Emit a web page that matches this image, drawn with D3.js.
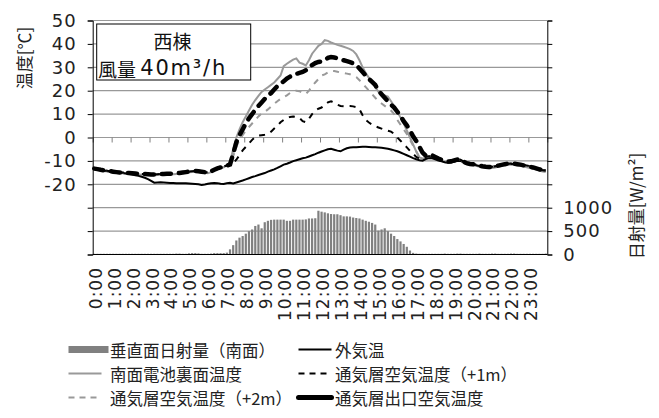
<!DOCTYPE html>
<html><head><meta charset="utf-8">
<script src="https://cdn.jsdelivr.net/npm/d3@7"></script>
<style>body{margin:0;background:#fff}svg{display:block}</style>
</head><body>
<svg id="c" width="659" height="418"></svg>
<script>
// ---- data ----
const hourLabels = ["0:00","1:00","2:00","3:00","4:00","5:00","6:00","7:00","8:00","9:00","10:00","11:00","12:00","13:00","14:00","15:00","16:00","17:00","18:00","19:00","20:00","21:00","22:00","23:00"];
const leftTickLabels = ["50","40","30","20","10","0","-10","-20"];
const rightTickLabels = ["1000","500","0"];
const seriesNames = ["垂直面日射量（南面）","外気温","南面電池裏面温度","通気層空気温度（+1m）","通気層空気温度（+2m）","通気層出口空気温度"];

const solar = [
15,15,15,15,15,15, 15,15,15,15,15,15, 15,15,15,15,15,15, 15,15,15,15,15,15,
15,15,20,20,15,15, 25,30,30,25,15,15, 15,20,30,30,30,30,
40,110,200,300,360,395, 445,500,535,610,640,560, 690,720,740,745,745,745,
745,720,720,745,745,745, 745,750,770,770,775,935, 915,900,880,865,860,860,
840,815,815,810,790,780, 770,745,720,700,675,640, 510,535,560,500,445,395,
330,280,225,165,85,35, 20,15,15,15,15,15, 15,15,15,20,15,15,
15,20,20,15,15,15, 15,15,20,15,15,15, 20,20,15,15,15,15,
20,20,15,15,15,15, 15,15,15,15,15,20];

const outdoor = [
-13.5,-13.7,-13.9,-14.1,-14.3,-14.5, -14.7,-14.9,-15.0,-15.2,-15.4,-15.6,
-15.8,-16.1,-16.4,-16.8,-17.2,-17.8, -18.5,-19.3,-19.2,-19.1,-19.2,-19.3,
-19.4,-19.4,-19.5,-19.5,-19.6,-19.6, -19.7,-19.8,-19.9,-20.0,-20.3,-20.1,
-19.8,-19.6,-19.4,-19.5,-19.8,-19.9, -19.5,-19.3,-19.6,-19.2,-18.8,-18.4,
-17.9,-17.4,-16.9,-16.5,-16.0,-15.6, -15.2,-14.6,-14.1,-13.6,-13.0,-12.3,
-11.6,-11.2,-10.7,-10.1,-9.7,-9.3, -8.9,-8.6,-8.1,-7.6,-7.1,-6.5,
-6.0,-5.5,-5.0,-4.8,-5.2,-5.6, -5.9,-5.2,-4.6,-4.3,-4.2,-4.2,
-4.1,-4.0,-4.0,-4.1,-4.2,-4.2, -4.3,-4.4,-4.6,-4.8,-5.1,-5.5,
-5.9,-6.4,-7.0,-7.6,-8.2,-8.8, -9.3,-9.7,-9.9,-9.2,-8.8,-8.9,
-9.3,-9.8,-10.2,-10.6,-10.8,-10.7, -10.4,-10.0,-10.0,-10.5,-11.0,-11.4,
-11.6,-11.9,-12.2,-12.5,-12.6,-12.6, -12.5,-12.3,-12.1,-11.8,-11.5,-11.3,
-11.2,-11.3,-11.5,-11.7,-11.8,-12.0, -12.3,-12.6,-13.0,-13.4,-13.8,-14.0];

const panelBack = [
-13.5,-13.8,-14.1,-14.3,-14.5,-14.7, -14.9,-15.1,-15.3,-15.3,-15.4,-15.5,
-15.6,-15.7,-15.8,-15.9,-15.9,-16.0, -16.1,-16.1,-16.0,-15.9,-15.9,-15.8,
-15.8,-15.7,-15.6,-15.5,-15.3,-15.1, -14.9,-14.7,-14.6,-14.7,-14.9,-15.1,
-15.3,-14.8,-14.1,-13.5,-13.1,-12.7, -11.8,-10.5,-5.0,0.0,3.5,6.5,
9.0,11.5,14.0,16.0,17.8,19.5, 20.5,21.5,22.5,23.5,25.0,26.5,
30.5,31.5,32.4,33.3,33.8,32.0, 31.5,30.8,33.0,35.8,37.5,39.2,
40.0,41.6,41.3,40.6,40.1,39.6, 39.2,38.8,38.3,37.8,37.0,35.5,
33.0,30.0,27.5,25.5,23.5,21.5, 19.5,18.5,18.0,17.5,15.5,13.5,
11.0,8.5,6.0,3.0,0.0,-3.0, -6.0,-8.5,-9.0,-8.7,-8.3,-8.3,
-8.8,-9.5,-10.0,-10.5,-10.8,-10.7, -10.3,-9.9,-10.0,-10.8,-11.5,-11.8,
-11.9,-12.1,-12.5,-12.8,-13.0,-13.1, -13.0,-12.8,-12.5,-12.2,-11.9,-11.7,
-11.6,-11.7,-11.9,-12.1,-12.4,-12.7, -13.0,-13.3,-13.7,-14.1,-14.5,-14.7];

const air1m = [
-13.3,-13.5,-13.8,-14.0,-14.2,-14.4, -14.6,-14.8,-15.0,-15.0,-15.1,-15.2,
-15.3,-15.4,-15.5,-15.6,-15.6,-15.7, -15.8,-15.8,-15.7,-15.6,-15.6,-15.5,
-15.5,-15.4,-15.3,-15.2,-15.0,-14.8, -14.6,-14.4,-14.3,-14.4,-14.6,-14.8,
-15.0,-14.5,-13.8,-13.2,-12.8,-12.4, -12.0,-11.8,-11.0,-9.5,-7.5,-5.5,
-4.0,-2.5,-1.0,0.2,0.8,1.0, 1.2,1.5,2.5,3.8,5.0,6.5,
7.5,8.3,8.8,9.0,8.8,8.3, 7.0,6.5,8.0,10.0,11.5,12.3,
12.8,13.9,15.0,15.5,14.8,14.0, 13.5,13.4,13.5,13.5,13.3,13.0,
12.1,9.5,7.5,6.4,5.5,4.8, 4.3,3.8,3.3,2.9,2.5,1.5,
0.0,-1.4,-2.8,-4.2,-5.7,-7.0, -8.3,-9.0,-8.7,-8.3,-8.0,-8.0,
-8.3,-9.0,-9.5,-10.0,-10.3,-10.2, -9.8,-9.4,-9.5,-10.3,-11.0,-11.3,
-11.4,-11.6,-12.0,-12.3,-12.5,-12.6, -12.5,-12.3,-12.0,-11.7,-11.4,-11.2,
-11.1,-11.2,-11.4,-11.6,-11.9,-12.2, -12.5,-12.8,-13.2,-13.6,-14.0,-14.2];

const air2m = [
-13.3,-13.5,-13.8,-14.0,-14.2,-14.4, -14.6,-14.8,-15.0,-15.0,-15.1,-15.2,
-15.3,-15.4,-15.5,-15.6,-15.6,-15.7, -15.8,-15.8,-15.7,-15.6,-15.6,-15.5,
-15.5,-15.4,-15.3,-15.2,-15.0,-14.8, -14.6,-14.4,-14.3,-14.4,-14.6,-14.8,
-15.0,-14.5,-13.8,-13.2,-12.8,-12.4, -12.0,-11.5,-8.0,-4.0,-1.0,1.0,
3.0,4.5,6.0,7.5,9.0,10.3, 11.0,12.0,13.2,14.4,15.5,16.5,
17.2,18.0,19.0,19.8,20.0,19.8, 19.0,18.6,20.0,22.0,23.5,25.0,
26.5,27.0,27.8,28.5,28.4,28.1, 27.8,27.6,27.3,27.0,26.4,25.8,
24.5,23.0,21.5,20.0,18.5,17.0, 15.5,14.5,13.5,12.5,11.5,10.0,
7.5,5.5,3.5,1.5,-1.0,-3.5, -6.0,-8.5,-8.5,-8.3,-8.0,-8.0,
-8.3,-9.0,-9.5,-10.0,-10.3,-10.2, -9.8,-9.4,-9.5,-10.3,-11.0,-11.3,
-11.4,-11.6,-12.0,-12.3,-12.5,-12.6, -12.5,-12.3,-12.0,-11.7,-11.4,-11.2,
-11.1,-11.2,-11.4,-11.6,-11.9,-12.2, -12.5,-12.8,-13.2,-13.6,-14.0,-14.2];

const outlet = [
-13.3,-13.5,-13.8,-14.0,-14.2,-14.4, -14.6,-14.8,-15.0,-15.0,-15.1,-15.2,
-15.3,-15.4,-15.5,-15.6,-15.6,-15.7, -15.8,-15.8,-15.7,-15.6,-15.6,-15.5,
-15.5,-15.4,-15.3,-15.2,-15.0,-14.8, -14.6,-14.4,-14.3,-14.4,-14.6,-14.8,
-15.0,-14.5,-13.8,-13.2,-12.8,-12.4, -12.0,-11.5,-7.0,-2.0,1.0,3.5,
6.0,8.2,10.0,11.8,13.5,15.0, 16.5,17.8,19.0,20.5,22.0,23.0,
24.0,25.2,26.0,26.6,27.2,27.6, 28.0,28.7,29.8,31.0,31.8,32.3,
32.5,33.2,34.0,34.4,34.2,33.8, 33.3,33.0,32.6,32.2,31.7,31.0,
29.5,28.0,26.5,25.0,23.8,22.5, 20.0,18.5,17.0,15.5,14.0,12.8,
11.0,9.2,7.0,5.2,3.0,0.5, -1.5,-4.0,-6.5,-7.8,-7.5,-7.6,
-8.3,-9.0,-9.5,-10.0,-10.3,-10.2, -9.8,-9.4,-9.5,-10.3,-11.0,-11.3,
-11.4,-11.6,-12.0,-12.3,-12.5,-12.6, -12.5,-12.3,-12.0,-11.7,-11.4,-11.2,
-11.1,-11.2,-11.4,-11.6,-11.9,-12.2, -12.5,-12.8,-13.2,-13.6,-14.0,-14.2];

// ---- drawing ----
const JP = "'Noto Sans CJK JP', sans-serif";
const NUM = "'DejaVu Sans', sans-serif";
const svg = d3.select("#c");
const L = 92.7, R = 547.3, T = 20.5, B = 254.5;
const idx = d3.range(solar.length);
const x = d3.scaleBand().domain(idx).range([L, R]).paddingInner(0.3).paddingOuter(0.15);
const cx = i => x(i) + x.bandwidth() / 2;
const hx = d3.scaleLinear().domain([0, 24]).range([L, R]);
const y = d3.scaleLinear().domain([-50, 50]).range([B, T]);
const y2 = d3.scaleLinear().domain([0, 5000]).range([B, T]);

// gridlines
svg.append("g").selectAll("line").data(d3.range(-40, 51, 10)).join("line")
  .attr("x1", L).attr("x2", R).attr("y1", d => y(d)).attr("y2", d => y(d))
  .attr("stroke", "#999").attr("stroke-width", 1.2);

// bars
svg.append("g").selectAll("rect").data(solar).join("rect")
  .attr("x", (d, i) => x(i)).attr("width", x.bandwidth())
  .attr("y", d => y2(d)).attr("height", d => B - y2(d))
  .attr("fill", "#808080");

// category axis at 0 (ticks only)
svg.append("g").attr("transform", `translate(0,${y(0)})`)
  .call(d3.axisBottom(hx).tickValues(d3.range(0, 25)).tickSize(5).tickFormat(""))
  .call(g => g.select(".domain").remove())
  .call(g => g.selectAll("line").attr("stroke", "#808080"));

// x labels
svg.append("g").selectAll("text").data(hourLabels).join("text")
  .attr("transform", (d, i) => `translate(${hx(i) + 3},267) rotate(-90)`)
  .attr("text-anchor", "end").attr("dominant-baseline", "central")
  .attr("font-family", NUM).attr("font-size", 17).attr("letter-spacing", 1)
  .attr("fill", "#222").text(d => d);

// line series
const line = data => d3.line().x((d, i) => cx(i)).y(d => y(d))(data);
svg.append("path").attr("d", line(panelBack)).attr("fill", "none")
  .attr("stroke", "#999").attr("stroke-width", 2);
svg.append("path").attr("d", line(outdoor)).attr("fill", "none")
  .attr("stroke", "#000").attr("stroke-width", 2);
svg.append("path").attr("d", line(air2m)).attr("fill", "none")
  .attr("stroke", "#999").attr("stroke-width", 2).attr("stroke-dasharray", "6,6");
svg.append("path").attr("d", line(air1m)).attr("fill", "none")
  .attr("stroke", "#000").attr("stroke-width", 2).attr("stroke-dasharray", "6,6");
svg.append("path").attr("d", line(outlet)).attr("fill", "none")
  .attr("stroke", "#000").attr("stroke-width", 4.5).attr("stroke-dasharray", "9,8")
  .attr("stroke-linecap", "round");

// axes
const leftVals = d3.range(-50, 51, 10);
svg.append("g").attr("transform", `translate(${L},0)`)
  .call(d3.axisLeft(y).tickValues(leftVals).tickSize(5).tickPadding(11)
    .tickFormat(d => { const k = leftTickLabels.indexOf(String(d)); return k >= 0 ? leftTickLabels[k] : ""; }))
  .call(g => g.select(".domain").attr("stroke", "#000"))
  .call(g => g.selectAll("text").attr("font-family", NUM).attr("font-size", 18).attr("letter-spacing", 1).attr("fill", "#222"));

svg.append("g").attr("transform", `translate(${R},0)`)
  .call(d3.axisRight(y2).tickValues(d3.range(0, 5001, 500)).tickSize(5).tickPadding(11)
    .tickFormat(d => { const k = rightTickLabels.indexOf(String(d)); return k >= 0 ? rightTickLabels[k] : ""; }))
  .call(g => g.select(".domain").attr("stroke", "#000"))
  .call(g => g.selectAll("text").attr("font-family", NUM).attr("font-size", 18).attr("letter-spacing", 1).attr("fill", "#222"));

svg.append("line").attr("x1", L).attr("x2", R).attr("y1", B).attr("y2", B)
  .attr("stroke", "#000").attr("stroke-width", 1.2);

// axis titles
svg.append("text").attr("transform", "translate(23,58) rotate(-90)")
  .attr("text-anchor", "middle").attr("dominant-baseline", "central")
  .attr("font-family", JP).attr("font-size", 17).attr("fill", "#222").text("温度[℃]");
svg.append("text").attr("transform", "translate(635,206) rotate(-90)")
  .attr("text-anchor", "middle").attr("dominant-baseline", "central")
  .attr("font-family", JP).attr("font-size", 17).attr("fill", "#222").text("日射量[W/m²]");

// annotation box
svg.append("rect").attr("x", 96.7).attr("y", 24).attr("width", 154).attr("height", 56)
  .attr("fill", "#fff").attr("stroke", "#000").attr("stroke-width", 1);
svg.append("text").attr("x", 172.5).attr("y", 40.5).attr("text-anchor", "middle")
  .attr("dominant-baseline", "central").attr("font-family", JP).attr("font-size", 19)
  .attr("fill", "#111").text("西棟");
const t2 = svg.append("text").attr("x", 98).attr("y", 67.5).attr("dominant-baseline", "central")
  .attr("fill", "#111");
t2.append("tspan").attr("font-family", JP).attr("font-size", 19).text("風量 ");
t2.append("tspan").attr("font-family", NUM).attr("font-size", 21).attr("letter-spacing", 1.8).text("40m³/h");

// legend
const legItems = [
  {name: seriesNames[0], col: 0, row: 0, type: "rect"},
  {name: seriesNames[1], col: 1, row: 0, type: "line", stroke: "#000", w: 2, dash: null},
  {name: seriesNames[2], col: 0, row: 1, type: "line", stroke: "#999", w: 2, dash: null},
  {name: seriesNames[3], col: 1, row: 1, type: "line", stroke: "#000", w: 2, dash: "6,5"},
  {name: seriesNames[4], col: 0, row: 2, type: "line", stroke: "#999", w: 2, dash: "6,5"},
  {name: seriesNames[5], col: 1, row: 2, type: "line", stroke: "#000", w: 5, dash: null}
];
const colX = [68.5, 298.5], rowY = [349.5, 373.5, 397.5];
const lg = svg.append("g");
legItems.forEach(it => {
  const x0 = colX[it.col], yy = rowY[it.row];
  if (it.type === "rect") {
    lg.append("rect").attr("x", x0).attr("y", yy - 3.5).attr("width", 40).attr("height", 7).attr("fill", "#808080");
  } else {
    const l = lg.append("line").attr("x1", x0).attr("x2", x0 + 33).attr("y1", yy).attr("y2", yy)
      .attr("stroke", it.stroke).attr("stroke-width", it.w);
    if (it.dash) l.attr("stroke-dasharray", it.dash);
    if (it.w > 3) l.attr("stroke-linecap", "round");
  }
  lg.append("text").attr("x", x0 + (it.col === 0 ? 41.5 : 36.5)).attr("y", yy)
    .attr("dominant-baseline", "central").attr("font-family", JP).attr("font-size", 16.5)
    .attr("fill", "#222").text(it.name);
});
</script>
</body></html>
